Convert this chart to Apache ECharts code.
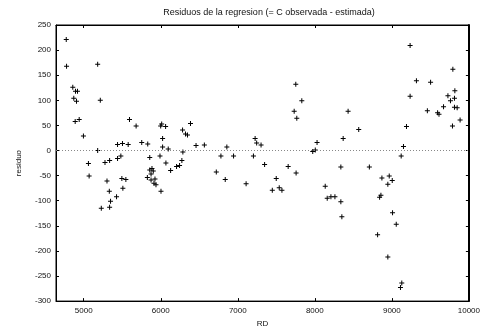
<!DOCTYPE html>
<html>
<head>
<meta charset="utf-8">
<script src="https://cdn.jsdelivr.net/npm/echarts@6/dist/echarts.min.js"></script>
<style>html,body{margin:0;padding:0;background:#fff}#c{width:483px;height:333px}</style>
</head>
<body>
<div id="c"></div>
<script>
var rd = [4773,4777,5181,4858,4893,4919,4871,4906,5215,4889,4941,4996,5594,5680,5999,6012,5439,5503,5577,5753,5831,6024,6024,5181,5482,5857,5990,5061,5070,5276,5336,5439,5302,5495,5547,5508,5332,5426,5348,5228,5336,5857,5886,5903,5874,5826,5874,5925,5912,5938,6003,6063,6097,6283,6321,6347,6386,6458,6566,6858,7225,7245,7302,6287,6781,6945,7203,6067,6274,6205,6244,6128,6721,6837,7108,7348,7753,7831,7732,7766,8432,8570,8368,8029,8006,7973,7654,7757,7499,7538,7448,7573,8338,8708,8135,8161,8209,8261,8338,8351,9237,9792,9319,9503,9818,9728,9813,9761,9237,9671,9813,9848,9461,9594,9612,9886,9787,9190,9151,9121,8871,8966,9005,8948,8858,8841,9009,9057,8815,8948,9129,9112];
var residuo = [221,168,172,126,118,118,104,98,100,58,62,29,62,49,49,53,12,14,12,16,13,24,7,0,-11,-14,-11,-26,-51,-24,-20,-16,-61,-56,-58,-75,-81,-92,-101,-115,-113,-39,-36,-41,-47,-54,-59,-57,-65,-68,-81,48,3,41,33,31,54,10,11,7,24,15,11,-3,-11,-11,-11,-25,-20,-32,-30,-40,-43,-58,-66,-28,132,99,78,64,78,42,24,16,1,-2,-32,-45,-56,-74,-79,-79,-33,-33,-71,-95,-92,-92,-102,-132,209,162,139,136,119,109,104,99,108,87,86,85,79,75,72,61,49,48,8,-11,-55,-51,-60,-67,-89,-93,-124,-147,-168,-212,-264,-273];
var xTicks = [5000,6000,7000,8000,9000,10000];
var xMin = 4640, xMax = 10000;
var yMin = -300, yMax = 250, yStep = 50;
var titleText = 'Residuos de la regresion (= C observada - estimada)';
var xName = 'RD', yName = 'residuo';

var pts = rd.map(function(x,i){return [x, residuo[i]];});
var plus = 'path://M-0.2,-1H0.2V-0.2H1V0.2H0.2V1H-0.2V0.2H-1V-0.2H-0.2Z';
var font = 'Liberation Sans, Arial, sans-serif';
var chart = echarts.init(document.getElementById('c'), null, {renderer:'canvas'});
function axLine(w){return {show:true, onZero:false, lineStyle:{color:'#000', width:w}};}
chart.setOption({
  animation:false,
  backgroundColor:'#fff',
  title:{text:titleText, left:264, textAlign:'center', top:3,
    textStyle:{fontFamily:font, fontSize:9, fontWeight:'normal', color:'#111'}},
  grid:{left:56, right:10, top:25, bottom:28, show:true, borderColor:'#000', borderWidth:1, backgroundColor:'transparent'},
  xAxis:[{
    type:'value', min:xMin, max:xMax, position:'bottom',
    name:xName, nameLocation:'middle', nameGap:17,
    nameTextStyle:{fontFamily:font, fontSize:8, color:'#111'},
    axisLine:axLine(1),
    axisTick:{show:true, inside:true, length:3, customValues:xTicks, lineStyle:{color:'#000'}},
    axisLabel:{customValues:xTicks, formatter:function(v){return String(v);}, fontFamily:font, fontSize:8, color:'#111', margin:6, showMinLabel:true, showMaxLabel:true, hideOverlap:false},
    splitLine:{show:false}
  },{
    type:'value', min:xMin, max:xMax, position:'top',
    axisLine:axLine(1),
    axisTick:{show:true, inside:true, length:3, customValues:xTicks, lineStyle:{color:'#000'}},
    axisLabel:{show:false}, splitLine:{show:false}
  }],
  yAxis:[{
    type:'value', min:yMin, max:yMax, interval:yStep, position:'left',
    name:yName, nameLocation:'middle', nameGap:33, nameRotate:90,
    nameTextStyle:{fontFamily:font, fontSize:8, color:'#111'},
    axisLine:axLine(1),
    axisTick:{show:true, inside:true, length:3, lineStyle:{color:'#000'}},
    axisLabel:{fontFamily:font, fontSize:8, color:'#111', margin:5},
    splitLine:{show:false}
  },{
    type:'value', min:yMin, max:yMax, interval:yStep, position:'right',
    axisLine:axLine(2),
    axisTick:{show:true, inside:true, length:3, lineStyle:{color:'#000'}},
    axisLabel:{show:false}, splitLine:{show:false}
  }],
  series:[{
    type:'scatter', xAxisIndex:0, yAxisIndex:0,
    data:pts, symbol:plus, symbolSize:5,
    itemStyle:{color:'#000', opacity:1},
    markLine:{silent:true, symbol:'none', label:{show:false},
      lineStyle:{color:'#888', type:[1,2], width:1},
      data:[{yAxis:0}]}
  }]
});
</script>
</body>
</html>
